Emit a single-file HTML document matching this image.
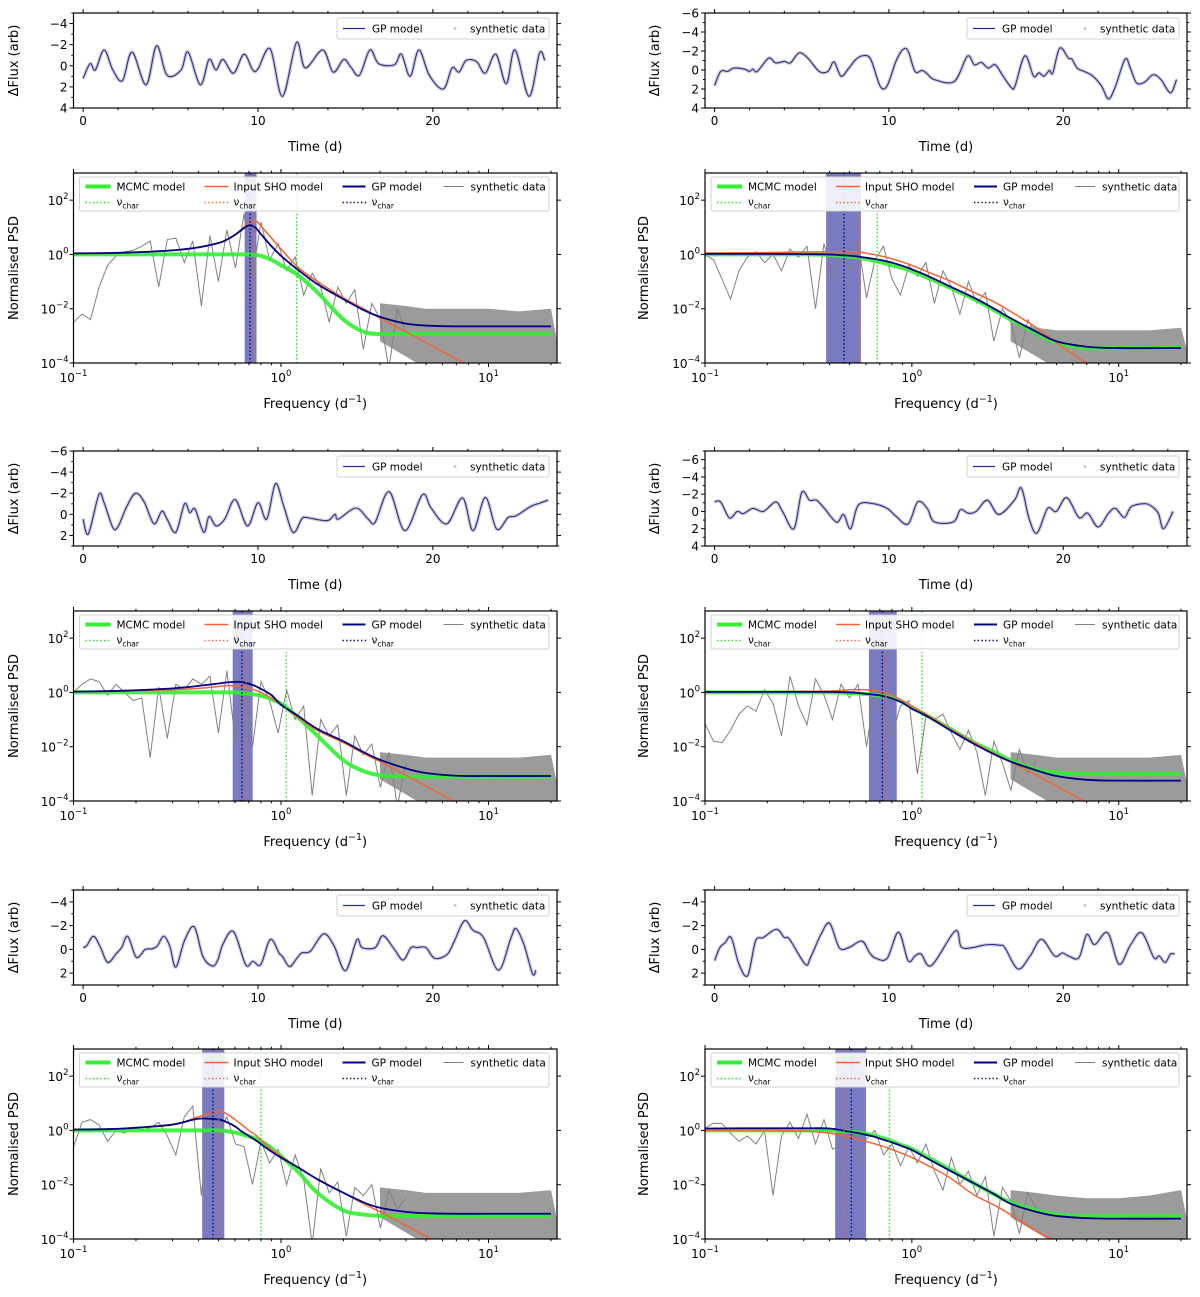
<!DOCTYPE html>
<html><head><meta charset="utf-8"><title>GP / SHO PSD comparison</title>
<style>
html,body{margin:0;padding:0;background:#fff;}
svg{display:block;font-family:"DejaVu Sans","Liberation Sans",sans-serif;}
</style></head>
<body>
<svg id="fig" width="1200" height="1297" viewBox="0 0 1200 1297" xmlns="http://www.w3.org/2000/svg"></svg>
<script>
// ---------- time-series data (t in days, flux) ----------
const tA=[0,0.4,0.7,1.2,1.7,2.25,2.8,3.6,4.2,4.8,5.6,6.0,6.7,7.2,7.6,8.0,8.6,9.2,9.7,10,10.7,11.4,12.2,12.7,13.7,14.3,14.9,15.3,15.8,16.4,16.9,17.8,18.2,18.7,19.2,19.8,20.6,21.1,21.5,21.9,22.5,23.0,23.6,24.2,24.7,25.5,26.1,26.4];
const fA=[1.2,-0.2,0.4,-1.5,0.4,1.4,-1.3,1.8,-1.9,0.9,0.4,-1.3,1.8,-0.6,0.4,-0.6,0.7,-1.1,0.4,0.3,-1.6,2.9,-2.2,0.2,-1.5,0.6,-0.6,0.1,0.9,-1.5,-0.2,-0.1,-1.1,1.0,-1.5,0.9,2.2,0.2,0.6,-0.5,-0.4,0.7,-1.1,1.7,-1.5,2.9,-1.2,-0.5];
const tB=[0,0.35,0.75,1.1,1.7,2.0,2.2,2.45,3.1,3.5,4.0,4.35,4.85,5.35,6.0,6.5,6.85,7.25,7.7,8.1,8.5,8.95,9.5,9.9,10.4,10.8,11.1,11.5,11.9,12.2,12.6,13.75,14.5,14.9,15.3,15.7,16.1,16.55,17.05,17.25,17.8,18.3,18.6,18.9,19.2,19.4,19.8,20.3,20.5,20.8,21.2,21.7,22.2,22.6,23.0,23.55,23.85,24.2,24.65,25.15,25.6,26.15,26.5];
const fB=[1.65,0.15,0.15,-0.2,-0.1,0.15,-0.1,0.15,-1.25,-0.75,-0.9,-0.75,-1.8,-1.25,0.15,0.15,-0.85,0.65,-0.2,-1.1,-1.5,-1.15,1.7,1.65,-0.9,-2.15,-2.0,0.15,0.05,0.4,1.0,1.2,-1.45,-0.55,-0.8,-0.2,-0.55,0.65,1.9,1.6,-1.5,0.65,0.3,0.65,0.05,0.3,-2.3,-1.25,-1.15,-0.2,0.15,0.65,1.7,3.05,1.7,-1.15,-0.2,1.35,1.3,0.5,1.0,2.4,1.0];
const tC=[0,0.3,0.9,1.2,1.7,2.0,2.5,3.0,3.5,4.05,4.5,4.8,5.3,5.8,6.1,6.4,6.9,7.2,7.6,8.1,8.7,9.4,10.0,10.5,11.0,11.45,12.0,12.5,12.75,13.95,14.4,14.6,15.6,16.3,16.7,17.5,18.4,19.4,19.9,20.8,21.7,22.3,23.0,23.65,24.3,24.75,25.6,26.1,26.6];
const fC=[0.45,1.85,-1.85,-1.1,1.25,1.15,-0.75,-2.0,-1.15,0.9,-0.3,0.45,1.7,-1.0,-0.15,-0.5,1.7,0.2,1.1,0.45,-1.4,1.1,-1.1,0.45,-2.9,-0.9,1.7,0.45,0.3,0.6,0,0.45,-0.6,0.45,0.75,-2.15,1.55,-1.85,-0.6,0.9,-1.55,1.55,-1.6,1.4,0.3,0.15,-0.75,-1.05,-1.35];
const tD=[0,0.35,0.85,1.3,1.65,2.2,2.8,3.5,3.9,4.55,5.0,5.45,5.85,6.3,7.0,7.4,7.8,8.25,9.1,9.9,10.4,11.1,11.65,12.2,12.6,13.7,14.1,14.55,15.0,15.65,16.3,17.2,17.6,18.05,18.5,19.1,19.6,20.2,20.9,21.4,22.0,22.6,23.0,23.5,23.9,24.6,25.0,25.45,25.75,26.3];
const fD=[-1.1,-1.1,0.75,0,0.25,-0.35,0,-1.1,0,2.0,-2.2,-1.3,-1.3,-0.35,1.25,0.35,2.0,-0.75,-0.9,-0.35,0.55,1.45,-1.1,-0.35,1.2,1.2,-0.2,0.2,0,-1.3,0.35,-1.3,-2.7,0.9,2.5,-0.35,0,-1.6,0.7,0.2,1.8,0.2,-0.35,0.7,-0.55,-0.9,-0.7,0.2,2.0,0];
const tE=[0,0.2,0.6,1.0,1.4,1.9,2.2,2.55,3.0,3.3,3.55,3.95,4.25,4.6,4.95,5.3,5.8,6.35,6.85,7.4,7.7,8.0,8.6,9.3,9.7,10.15,10.6,10.85,11.2,11.4,11.8,12.2,12.5,13.0,13.75,14.35,15.0,15.65,15.95,16.7,17.15,17.8,18.3,18.75,19.1,19.6,20.1,20.8,21.2,21.8,22.3,22.9,23.75,24.45,24.75,25.2,25.7,25.9];
const fE=[-0.15,-0.3,-1.1,-0.15,1.1,0.35,-0.15,-1.1,0.6,0.45,0,-0.05,-0.3,-1.1,-0.3,1.5,-0.75,-1.9,0.6,1.4,0.9,-0.45,-1.5,1.3,1.0,1.3,-0.6,-0.75,0.3,0.6,1.45,0.8,0.3,0.15,-1.3,-0.3,1.8,-0.8,-0.15,-0.15,-1.15,0,0.9,-0.15,-0.15,-0.15,0.75,0.45,-0.6,-2.4,-1.6,-1.0,1.75,-0.9,-1.75,-0.45,2.05,1.75];
const tF=[0,0.3,0.6,0.95,1.4,1.9,2.35,2.8,3.55,4.0,4.3,5.2,5.5,6.1,6.6,7.15,7.7,8.45,8.9,9.25,9.9,10.55,11.1,11.5,11.85,12.45,13.8,14.15,14.8,15.25,15.7,16.35,16.65,17.4,18.1,18.75,19.5,19.95,20.3,20.9,21.35,21.8,22.55,23.2,23.85,24.5,25.2,25.5,25.85,26.15,26.4];
const fF=[0.95,-0.15,-0.55,-1.0,1.25,2.2,-0.7,-1.0,-1.7,-1.0,-0.85,1.25,0.7,-1.25,-2.2,-0.15,-0.15,-0.7,0.3,0.75,0.75,-1.45,0.95,0.55,0.4,1.35,-1.55,-0.2,-0.15,-0.3,-0.4,-0.35,-0.15,1.65,0.55,-0.85,0.55,0.3,0.55,0.7,-1.25,-0.4,-1.4,1.25,-0.35,-1.4,0.7,0.55,1.1,0.4,0.4];

// ---------- PSD model curves: log10(PSD) at psdFreq ----------
const psdFreq=[0.1,0.15,0.2,0.3,0.4,0.5,0.55,0.6,0.65,0.7,0.75,0.8,0.9,1.0,1.2,1.5,2,2.5,3,4,5,7,10,20];
const gpA=[0.04,0.05,0.08,0.15,0.26,0.42,0.55,0.72,0.92,1.07,1.0,0.75,0.3,-0.05,-0.55,-1.1,-1.65,-2.05,-2.3,-2.55,-2.62,-2.65,-2.65,-2.65];
const shoA=[0.04,0.05,0.08,0.15,0.26,0.42,0.55,0.72,0.95,1.15,1.25,1.05,0.6,0.2,-0.45,-1.0,-1.6,-2.0,-2.35,-2.85,-3.25,-3.85,-4.45,-5.65];
const mcA=[0,0,0,0,0,0,0,0,0,0,-0.02,-0.05,-0.2,-0.4,-0.75,-1.4,-2.4,-2.85,-2.93,-2.93,-2.93,-2.93,-2.93,-2.93];
const gpB=[0.02,0.02,0.02,0.01,0.0,-0.05,-0.08,-0.12,-0.16,-0.2,-0.25,-0.3,-0.42,-0.55,-0.8,-1.15,-1.6,-2.0,-2.35,-2.85,-3.2,-3.4,-3.45,-3.45];
const shoB=[0.05,0.06,0.07,0.09,0.1,0.1,0.08,0.05,0.0,-0.05,-0.1,-0.16,-0.28,-0.4,-0.65,-0.95,-1.4,-1.75,-2.1,-2.7,-3.25,-4.0,-4.6,-5.8];
const mcB=[0,0,0,0,-0.02,-0.08,-0.12,-0.17,-0.22,-0.28,-0.34,-0.4,-0.5,-0.62,-0.87,-1.2,-1.65,-2.05,-2.4,-2.9,-3.25,-3.45,-3.45,-3.45];
const gpC=[0.03,0.05,0.08,0.15,0.24,0.33,0.37,0.39,0.38,0.32,0.24,0.13,-0.1,-0.45,-0.85,-1.35,-1.8,-2.2,-2.48,-2.8,-2.97,-3.07,-3.08,-3.08];
const shoC=[0.02,0.04,0.06,0.1,0.15,0.22,0.25,0.25,0.22,0.16,0.08,0.0,-0.22,-0.45,-0.9,-1.4,-1.85,-2.25,-2.55,-3.05,-3.45,-4.05,-4.65,-5.85];
const mcC=[0,0,0,0,0,0,0,0,-0.02,-0.05,-0.08,-0.12,-0.25,-0.42,-0.9,-1.6,-2.5,-2.9,-3.05,-3.1,-3.1,-3.1,-3.1,-3.1];
const gpD=[0.02,0.02,0.02,0.02,0.02,0.0,-0.02,-0.05,-0.08,-0.11,-0.16,-0.22,-0.38,-0.6,-0.9,-1.35,-1.9,-2.28,-2.55,-2.87,-3.08,-3.22,-3.25,-3.25];
const shoD=[0.02,0.02,0.03,0.04,0.05,0.1,0.1,0.1,0.07,0.03,-0.03,-0.1,-0.3,-0.5,-0.85,-1.3,-1.85,-2.25,-2.55,-3.05,-3.45,-4.05,-4.65,-5.85];
const mcD=[0,0,0,0,0,-0.02,-0.04,-0.06,-0.09,-0.12,-0.15,-0.18,-0.35,-0.55,-0.88,-1.3,-1.85,-2.2,-2.5,-2.85,-2.95,-3.0,-3.0,-3.0];
const gpE=[0.03,0.05,0.1,0.22,0.43,0.4,0.3,0.15,-0.05,-0.2,-0.35,-0.5,-0.78,-1.0,-1.35,-1.8,-2.3,-2.65,-2.85,-3.0,-3.05,-3.07,-3.07,-3.07];
const shoE=[0.03,0.05,0.1,0.2,0.5,0.7,0.6,0.4,0.2,0.0,-0.15,-0.35,-0.7,-0.95,-1.35,-1.8,-2.3,-2.7,-3.0,-3.5,-3.9,-4.5,-5.1,-6.3];
const mcE=[0,0,0,0,0,0,-0.03,-0.08,-0.15,-0.22,-0.3,-0.4,-0.65,-0.95,-1.5,-2.3,-2.95,-3.1,-3.15,-3.15,-3.15,-3.15,-3.15,-3.15];
const gpF=[0.07,0.08,0.08,0.08,0.07,-0.05,-0.1,-0.16,-0.22,-0.3,-0.37,-0.44,-0.58,-0.72,-1.05,-1.45,-1.95,-2.35,-2.7,-3.0,-3.15,-3.23,-3.25,-3.25];
const shoF=[0,0,0,-0.02,-0.1,-0.25,-0.32,-0.4,-0.48,-0.55,-0.62,-0.7,-0.85,-1.0,-1.3,-1.7,-2.38,-2.75,-3.1,-3.7,-4.1,-4.7,-5.3,-6.5];
const mcF=[0,0,0,0,0,-0.05,-0.08,-0.12,-0.18,-0.25,-0.32,-0.4,-0.55,-0.68,-1.0,-1.4,-1.95,-2.35,-2.65,-2.95,-3.1,-3.15,-3.15,-3.15];

// ---------- synthetic periodogram (log10) on a 40-point log grid 0.1..4 d^-1 ----------
const dataA=[-2.5,-2.2,-2.4,-1.2,-0.4,-0.05,0.1,0.15,0.3,0.5,-1.2,0.55,0.6,-0.3,0.5,-1.9,0.7,-1.0,0.9,-0.5,1.5,-0.8,1.2,-0.2,0.4,-0.6,-0.1,-1.5,-0.7,-1.2,-2.5,-1.2,-1.8,-1.3,-3.5,-1.8,-2.4,-4.2,-2.0,-2.9];
const dataB=[0.0,-0.2,-0.9,-1.65,-0.6,-0.1,0.1,-0.3,0.0,-0.6,0.2,-0.1,0.3,-2.0,0.4,-0.8,0.2,-0.6,0.5,-1.6,-0.2,0.3,-0.9,-1.5,-0.4,-0.8,-0.3,-1.8,-0.6,-1.2,-2.2,-1.0,-1.8,-1.4,-3.2,-2.0,-2.5,-3.8,-2.4,-3.0];
const dataC=[0.0,0.3,0.5,0.4,-0.1,0.3,0.0,-0.3,-0.2,-2.4,0.2,-1.7,0.3,0.1,0.5,0.3,0.6,-1.5,0.8,-1.8,0.5,-2.0,0.4,-0.3,-1.5,0.1,-1.0,-0.5,-3.8,-1.0,-1.6,-1.2,-3.8,-1.6,-2.3,-1.9,-3.5,-2.2,-4.2,-2.6];
const dataD=[-1.15,-1.8,-1.85,-1.4,-0.8,-0.5,-0.7,0.1,-0.4,-1.6,0.6,-0.5,-1.2,0.5,-0.1,-1.0,0.3,-0.2,0.3,-2.0,0.1,-0.8,-1.6,-0.5,-0.3,-3.0,-0.9,-1.0,-0.8,-1.5,-2.1,-1.4,-2.2,-3.8,-1.8,-2.6,-3.6,-2.1,-3.0,-2.5];
const dataE=[-0.6,0.3,0.4,0.2,-0.4,0.0,-0.1,0.1,0.0,0.1,0.3,-0.2,-0.9,0.5,0.9,-2.4,0.6,-0.1,0.5,-0.5,-0.6,-2.0,-0.4,-1.2,-0.7,-2.0,-0.9,-1.8,-4.2,-1.4,-2.3,-1.9,-3.9,-2.1,-2.4,-2.0,-3.6,-2.2,-2.9,-2.5];
const dataF=[0.08,0.27,0.25,-0.1,-0.4,-0.2,-0.5,0.0,-2.4,-0.2,0.3,-0.3,0.6,-0.5,0.4,-0.7,-0.5,0.5,-1.1,-0.3,0.0,-0.9,-0.5,-1.3,-0.6,-1.2,-0.5,-1.5,-2.2,-1.0,-2.0,-1.5,-2.4,-1.7,-3.9,-2.1,-2.6,-3.8,-2.3,-2.9];
// upper envelope (log10) of the dense high-frequency noise at noiseFreq
const noiseFreq=[3,4,5,7,10,14,20];
const noiseA=[-1.8,-1.9,-2.0,-2.0,-2.0,-2.1,-2.0];
const noiseB=[-2.5,-2.7,-2.8,-2.8,-2.8,-2.8,-2.7];
const noiseC=[-2.2,-2.3,-2.4,-2.4,-2.4,-2.4,-2.3];
const noiseD=[-2.2,-2.3,-2.4,-2.4,-2.4,-2.4,-2.3];
const noiseE=[-2.1,-2.2,-2.3,-2.3,-2.3,-2.3,-2.2];
const noiseF=[-2.2,-2.3,-2.4,-2.5,-2.5,-2.4,-2.2];
// characteristic frequencies [band low, band high, GP, SHO, MCMC]
const nuA=[0.668,0.762,0.71,0.74,1.19];
const nuB=[0.385,0.567,0.47,0.555,0.68];
const nuC=[0.585,0.73,0.648,0.68,1.06];
const nuD=[0.62,0.845,0.72,0.75,1.12];
const nuE=[0.417,0.533,0.47,0.50,0.80];
const nuF=[0.426,0.60,0.51,0.47,0.78];
// time-panel y limits (inverted axis: first is top)
const ylimA=[-5,4], ylimB=[-6,4], ylimC=[-6,3], ylimD=[-7,4], ylimE=[-5,3], ylimF=[-5,3];

const NS="http://www.w3.org/2000/svg";
const svg=document.getElementById('fig');
function mk(tag,attrs,parent){const e=document.createElementNS(NS,tag);for(const k in attrs)e.setAttribute(k,attrs[k]);(parent||svg).appendChild(e);return e;}
function smooth(p){let d=`M${p[0][0].toFixed(2)},${p[0][1].toFixed(2)}`;for(let i=0;i<p.length-1;i++){const p0=p[i-1]||p[i],p1=p[i],p2=p[i+1],p3=p[i+2]||p2;const c1x=p1[0]+(p2[0]-p0[0])/6,c1y=p1[1]+(p2[1]-p0[1])/6,c2x=p2[0]-(p3[0]-p1[0])/6,c2y=p2[1]-(p3[1]-p1[1])/6;d+=` C${c1x.toFixed(2)},${c1y.toFixed(2)} ${c2x.toFixed(2)},${c2y.toFixed(2)} ${p2[0].toFixed(2)},${p2[1].toFixed(2)}`;}return d;}
let clipId=0;
function clipFor(L,T,R,B){const id='c'+(clipId++);const cp=mk('clipPath',{id:id});mk('rect',{x:L,y:T,width:R-L,height:B-T},cp);return id;}
function txt(x,y,s,opt,parent){const e=mk('text',Object.assign({x:x,y:y,'font-size':12,fill:'#000'},opt||{}),parent);e.textContent=s;return e;}
function pow10(x,y,exp,anchor){const e=mk('text',{x:x,y:y,'font-size':12,'text-anchor':anchor});const a=document.createElementNS(NS,'tspan');a.textContent='10';e.appendChild(a);const b=document.createElementNS(NS,'tspan');b.setAttribute('dy','-6');b.setAttribute('font-size','8.5');b.textContent=exp;e.appendChild(b);return e;}

function timePanel(L,R,T,B,ts,fs,ylim,yLabX,key){
  const g=mk('g',{});
  
  
  const X0=-0.55,X1=27.1;
  const sx=t=>L+(t-X0)/(X1-X0)*(R-L);
  const sy=v=>T+(v-ylim[0])/(ylim[1]-ylim[0])*(B-T);
  const cid=clipFor(L,T,R,B);
  const pts=ts.map((t,i)=>[sx(t),sy(fs[i])]);
  const halo=mk('path',{d:smooth(pts),fill:'none',stroke:'#cfcfcf','stroke-width':3.5,'clip-path':`url(#${cid})`},g);
  
  
  const line=mk('path',{d:smooth(pts),fill:'none',stroke:'#2d2d96','stroke-width':1.1,'clip-path':`url(#${cid})`},g);
  
  
  const fr=mk('rect',{x:L,y:T,width:R-L,height:B-T,fill:'none',stroke:'#000','stroke-width':1.2},g);
  
  
  for(let t=0;t<=26;t+=2){const x=sx(t);const maj=t%10===0;const len=maj?4:2.2;
    mk('line',{x1:x,x2:x,y1:B,y2:B+len,stroke:'#000','stroke-width':1},g);
    mk('line',{x1:x,x2:x,y1:T,y2:T-len,stroke:'#000','stroke-width':1},g);
    if(maj){const tl=txt(x,B+17,String(t),{'text-anchor':'middle'},g);
      
      }}
  for(let v=Math.ceil(ylim[0]);v<=ylim[1];v++){const y=sy(v);const maj=v%2===0;const len=maj?4:2.2;
    mk('line',{x1:L,x2:L-len,y1:y,y2:y,stroke:'#000','stroke-width':1},g);
    mk('line',{x1:R,x2:R+len,y1:y,y2:y,stroke:'#000','stroke-width':1},g);
    if(maj){const tl=txt(L-6,y+4.5,v<0?'\u2212'+(-v):String(v),{'text-anchor':'end'},g);
      
      }}
  const xl=txt((L+R)/2,B+43,'Time (d)',{'text-anchor':'middle','font-size':13},g);
  
  
  const yl=txt(yLabX,(T+B)/2,'\u0394Flux (arb)',{'text-anchor':'middle','font-size':13,transform:`rotate(-90 ${yLabX} ${(T+B)/2})`},g);
  
  
  const lg=mk('g',{},g);
  
  
  mk('rect',{x:R-220,y:T+5,width:212,height:21,rx:2,fill:'#fff','fill-opacity':0.85,stroke:'#d0d0d0'},lg);
  mk('line',{x1:R-214,x2:R-192,y1:T+15.5,y2:T+15.5,stroke:'#2d2d96','stroke-width':1.2},lg);
  const e1=txt(R-185,T+19.5,'GP model',{'font-size':10.5},lg);
  
  
  mk('circle',{cx:R-102,cy:T+15.5,r:1.5,fill:'#c8c8c8'},lg);
  const e2=txt(R-87,T+19.5,'synthetic data',{'font-size':10.5},lg);
  
  
}

function psdPanel(L,R,T,B,gp,sho,mc,data,noise,nu,yLabX,key){
  const g=mk('g',{});
  
  
  const lx0=-1,lx1=1.33,ly0=-4,ly1=3;
  const sx=f=>L+(Math.log10(f)-lx0)/(lx1-lx0)*(R-L);
  const sy=lp=>B-(lp-ly0)/(ly1-ly0)*(B-T);
  const cid=clipFor(L,T,R,B);
  const cl=`url(#${cid})`;
  const band=mk('rect',{x:sx(nu[0]),y:T,width:sx(nu[1])-sx(nu[0]),height:B-T,fill:'#7a7ac0','clip-path':cl},g);
  
  
  const dpts=data.map((v,i)=>[sx(0.1*Math.pow(40,i/(data.length-1))),sy(v)]);
  const nTop=noiseFreq.map((f,i)=>[sx(f),sy(noise[i])]);
  const nz=[[sx(noiseFreq[0]),sy(-3.2)]].concat(nTop).concat([[R+5,sy(-4.2)],[sx(5),sy(-4.2)]]);
  const np=mk('polygon',{points:nz.map(p=>p[0].toFixed(1)+','+p[1].toFixed(1)).join(' '),fill:'#8a8a8a','fill-opacity':0.85,'clip-path':cl},g);
  
  
  const dl=mk('polyline',{points:dpts.map(p=>p[0].toFixed(1)+','+p[1].toFixed(1)).join(' '),fill:'none',stroke:'#808080','stroke-width':1,'clip-path':cl},g);
  
  
  const cur=(arr)=>smooth(psdFreq.map((f,i)=>[sx(f),sy(arr[i])]));
  const m1=mk('path',{d:cur(mc),fill:'none',stroke:'#33ee33','stroke-width':4,'stroke-opacity':0.9,'clip-path':cl},g);
  
  
  const m2=mk('path',{d:cur(sho),fill:'none',stroke:'#f26535','stroke-width':1.5,'clip-path':cl},g);
  
  
  const m3=mk('path',{d:cur(gp),fill:'none',stroke:'#000080','stroke-width':1.8,'clip-path':cl},g);
  
  
  const vGp=mk('line',{x1:sx(nu[2]),x2:sx(nu[2]),y1:T,y2:B,stroke:'#000080','stroke-width':1.4,'stroke-dasharray':'1.4,2.3'},g);
  
  
  const vSho=mk('line',{x1:sx(nu[3]),x2:sx(nu[3]),y1:T,y2:B,stroke:'#f26535','stroke-width':1.4,'stroke-dasharray':'1.4,2.3'},g);
  
  
  const vMc=mk('line',{x1:sx(nu[4]),x2:sx(nu[4]),y1:T,y2:B,stroke:'#22dd22','stroke-width':1.4,'stroke-dasharray':'1.4,2.3'},g);
  
  
  const fr=mk('rect',{x:L,y:T,width:R-L,height:B-T,fill:'none',stroke:'#000','stroke-width':1.2},g);
  
  
  for(let d=-1;d<=1;d++){for(let m=1;m<=9;m++){const f=m*Math.pow(10,d);if(Math.log10(f)>lx1)continue;const x=sx(f);const len=m===1?4:2.2;
    mk('line',{x1:x,x2:x,y1:B,y2:B+len,stroke:'#000','stroke-width':1},g);
    mk('line',{x1:x,x2:x,y1:T,y2:T-len,stroke:'#000','stroke-width':1},g);
    if(m===1){const tl=pow10(x,B+19,d<0?'\u2212'+(-d):String(d),'middle');g.appendChild(tl);
      
      }}}
  for(let e=-4;e<=2;e+=2){const y=sy(e);
    mk('line',{x1:L,x2:L-4,y1:y,y2:y,stroke:'#000','stroke-width':1},g);
    mk('line',{x1:R,x2:R+4,y1:y,y2:y,stroke:'#000','stroke-width':1},g);
    const tl=pow10(L-5,y+5,e<0?'\u2212'+(-e):String(e),'end');g.appendChild(tl);
    
    }
  const xl=mk('text',{x:(L+R)/2,y:B+45,'font-size':13,'text-anchor':'middle'},g);
  
  
  xl.textContent='Frequency (d';
  const sup=document.createElementNS(NS,'tspan');sup.setAttribute('dy','-6');sup.setAttribute('font-size','9.5');sup.textContent='\u22121';xl.appendChild(sup);
  const cl2=document.createElementNS(NS,'tspan');cl2.setAttribute('dy','6');cl2.textContent=')';xl.appendChild(cl2);
  const yl=txt(yLabX,(T+B)/2,'Normalised PSD',{'text-anchor':'middle','font-size':13,transform:`rotate(-90 ${yLabX} ${(T+B)/2})`},g);
  
  
  const lg=mk('g',{},g);
  
  
  mk('rect',{x:L+6,y:T+4,width:R-L-14,height:34,rx:2,fill:'#fff','fill-opacity':0.88,stroke:'#d0d0d0'},lg);
  const r1=T+13.5,r2=T+29.5;
  mk('line',{x1:L+12,x2:L+37,y1:r1,y2:r1,stroke:'#33ee33','stroke-width':4},lg);
  const a=txt(L+43,r1+4,'MCMC model',{'font-size':10.5},lg);
  
  
  mk('line',{x1:L+131,x2:L+155,y1:r1,y2:r1,stroke:'#f26535','stroke-width':1.5},lg);
  const b=txt(L+160,r1+4,'Input SHO model',{'font-size':10.5},lg);
  
  
  mk('line',{x1:L+269,x2:L+292,y1:r1,y2:r1,stroke:'#000080','stroke-width':2},lg);
  const c=txt(L+298,r1+4,'GP model',{'font-size':10.5},lg);
  
  
  mk('line',{x1:L+370,x2:L+390,y1:r1,y2:r1,stroke:'#808080','stroke-width':1},lg);
  const d2=txt(L+397,r1+4,'synthetic data',{'font-size':10.5},lg);
  
  
  const cols=[['#22dd22',L+12,L+43],['#f26535',L+131,L+160],['#000080',L+269,L+298]];
  cols.forEach((cc,i)=>{
    mk('line',{x1:cc[1],x2:cc[1]+24,y1:r2,y2:r2,stroke:cc[0],'stroke-width':1.4,'stroke-dasharray':'1.4,2.3'},lg);
    const t=mk('text',{x:cc[2],y:r2+3,'font-size':10.5},lg);
    
    
    t.textContent='\u03bd';
    const s=document.createElementNS(NS,'tspan');s.setAttribute('dy','3');s.setAttribute('font-size','7.5');s.textContent='char';t.appendChild(s);
  });
}

const colL=[73.5,705], colR=[557,1187];
const tTop=[13,451,890], tBot=[108,546,985];
const pTop=[173,611,1049], pBot=[363,801,1239];
const yLabTime=[18,659], yLabPsd=[18,648];

timePanel(colL[0],colR[0],tTop[0],tBot[0],tA,fA,ylimA,yLabTime[0],'a');
timePanel(colL[1],colR[1],tTop[0],tBot[0],tB,fB,ylimB,yLabTime[1],'b');
timePanel(colL[0],colR[0],tTop[1],tBot[1],tC,fC,ylimC,yLabTime[0],'c');
timePanel(colL[1],colR[1],tTop[1],tBot[1],tD,fD,ylimD,yLabTime[1],'d');
timePanel(colL[0],colR[0],tTop[2],tBot[2],tE,fE,ylimE,yLabTime[0],'e');
timePanel(colL[1],colR[1],tTop[2],tBot[2],tF,fF,ylimF,yLabTime[1],'f');

psdPanel(colL[0],colR[0],pTop[0],pBot[0],gpA,shoA,mcA,dataA,noiseA,nuA,yLabPsd[0],'a');
psdPanel(colL[1],colR[1],pTop[0],pBot[0],gpB,shoB,mcB,dataB,noiseB,nuB,yLabPsd[1],'b');
psdPanel(colL[0],colR[0],pTop[1],pBot[1],gpC,shoC,mcC,dataC,noiseC,nuC,yLabPsd[0],'c');
psdPanel(colL[1],colR[1],pTop[1],pBot[1],gpD,shoD,mcD,dataD,noiseD,nuD,yLabPsd[1],'d');
psdPanel(colL[0],colR[0],pTop[2],pBot[2],gpE,shoE,mcE,dataE,noiseE,nuE,yLabPsd[0],'e');
psdPanel(colL[1],colR[1],pTop[2],pBot[2],gpF,shoF,mcF,dataF,noiseF,nuF,yLabPsd[1],'f');
</script>
</body></html>
